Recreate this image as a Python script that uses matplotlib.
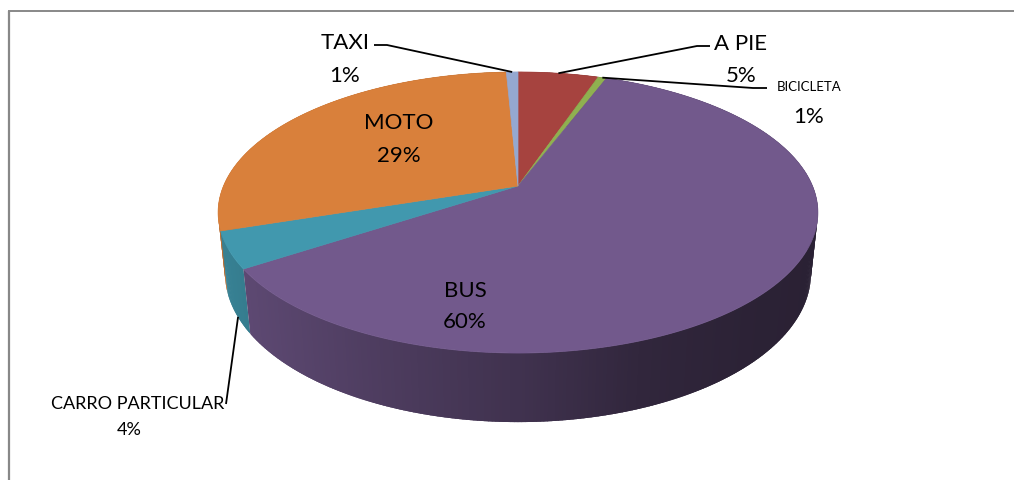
import numpy as np
import matplotlib
matplotlib.use("Agg")
import matplotlib.pyplot as plt
from matplotlib.patches import Polygon

# ---- data ----
categories = ["A PIE", "BICICLETA", "BUS", "CARRO PARTICULAR", "MOTO", "TAXI"]
shares = [5.2, 0.55, 60.0, 4.2, 29.3, 0.75]
colors = ["#A6433F", "#8FB050", "#72598C", "#4198AE", "#D9803B", "#95A8D0"]

# ---- 3D perspective parameters (layout) ----
cx, cy = 518.0, 187.0
F, D, elev, thick = 1386.0, 4.706, np.deg2rad(27.4), 0.235
ce, se = np.cos(elev), np.sin(elev)


def proj(x, y, z):
    d = D - (y * ce + z * se)
    return cx + F * x / d, cy + F * (y * se - z * ce) / d


def shade(xs):
    return np.interp(xs, [215, 250, 380, 520, 640, 760, 820],
                     [0.86, 0.81, 0.68, 0.56, 0.43, 0.38, 0.37])


fig = plt.figure(figsize=(10.14, 4.81), dpi=100)
ax = fig.add_axes([0, 0, 1, 1])
ax.set_xlim(0, 1014)
ax.set_ylim(481, 0)
ax.axis("off")

total = float(sum(shares))
fr = np.array(shares) / total
ends = np.cumsum(fr)
starts = ends - fr
th0 = -np.pi / 2

# side walls (gradient built from overlapping strips)
step = np.deg2rad(0.6)
quads = []
for i, (s0, s1) in enumerate(zip(starts, ends)):
    a0, a1 = th0 + 2 * np.pi * s0, th0 + 2 * np.pi * s1
    n = max(2, int(np.ceil((a1 - a0) / step)) + 1)
    ts = np.linspace(a0, a1, n)
    base = np.array(matplotlib.colors.to_rgb(colors[i]))
    dt = ts[1] - ts[0]
    for ta, tb in zip(ts[:-1], ts[1:]):
        tb2 = min(tb + 0.6 * dt, a1) if tb < a1 else tb
        ta2 = max(ta - 0.6 * dt, a0)
        seg = np.linspace(ta2, tb2, 3)
        top = [proj(np.cos(t), np.sin(t), 0) for t in seg]
        bot = [proj(np.cos(t), np.sin(t), -thick) for t in seg[::-1]]
        depth = (np.sin(ta) + np.sin(tb)) / 2
        xm = (top[0][0] + top[-1][0]) / 2
        col = np.clip(base * shade(xm), 0, 1)
        quads.append((depth, top + bot, col))
quads.sort(key=lambda q: q[0])
for _, pts, col in quads:
    ax.add_patch(Polygon(pts, closed=True, facecolor=col, edgecolor="none",
                         linewidth=0, antialiased=True))

# top faces
for i, (s0, s1) in enumerate(zip(starts, ends)):
    a0, a1 = th0 + 2 * np.pi * s0, th0 + 2 * np.pi * s1
    n = max(3, int(np.ceil((a1 - a0) / np.deg2rad(0.5))) + 1)
    ts = np.linspace(a0, a1, n)
    pts = [proj(0, 0, 0)] + [proj(np.cos(t), np.sin(t), 0) for t in ts]
    ax.add_patch(Polygon(pts, closed=True, facecolor=colors[i],
                         edgecolor=colors[i], linewidth=0.5))

# labels
font = "Lato"
mids = th0 + 2 * np.pi * (starts + ends) / 2
pct = [f"{100 * f:.0f}%" for f in fr]

# (name pos, pct pos, name size, pct size) per category
lab = {
    "A PIE": ((740, 50), (741, 82), 16, 16),
    "BICICLETA": ((809, 91), (809, 123), 9.5, 16),
    "BUS": ((465.5, 297), (465, 328), 16, 16),
    "CARRO PARTICULAR": ((138, 409), (129, 435), 13, 13),
    "MOTO": ((398.5, 129), (398.7, 162), 16, 16),
    "TAXI": ((345, 49), (345, 82), 16, 16),
}
for i, cat in enumerate(categories):
    (nx, ny), (px, py), fs1, fs2 = lab[cat]
    ax.text(nx, ny, cat, ha="center", va="baseline", fontsize=fs1,
            family=font, color="black")
    ax.text(px, py, pct[i], ha="center", va="baseline", fontsize=fs2,
            family=font, color="black")


# leader lines
def top_pt(i):
    return proj(np.cos(mids[i]), np.sin(mids[i]), 0)


def bot_pt(i):
    return proj(np.cos(mids[i]), np.sin(mids[i]), -thick)


lk = dict(color="black", linewidth=1.3, solid_capstyle="butt")
a = top_pt(0)
ax.plot([a[0], 697, 710], [a[1], 47, 47], **lk)
a = top_pt(1)
ax.plot([a[0], 753, 767], [a[1], 89, 89], **lk)
a = top_pt(5)
ax.plot([a[0], 387, 374], [a[1], 46, 46], **lk)
a = bot_pt(3)
ax.plot([a[0] + 2, 226], [a[1] + 3, 405], **lk)

# chart border (partially cropped)
ax.plot([8.8, 8.8], [11.5, 481], color="#888888", linewidth=1.6,
        solid_capstyle="butt")
ax.plot([8, 1014], [11.5, 11.5], color="#888888", linewidth=1.4,
        solid_capstyle="butt")

fig.savefig("out.png", dpi=100, facecolor="white")
